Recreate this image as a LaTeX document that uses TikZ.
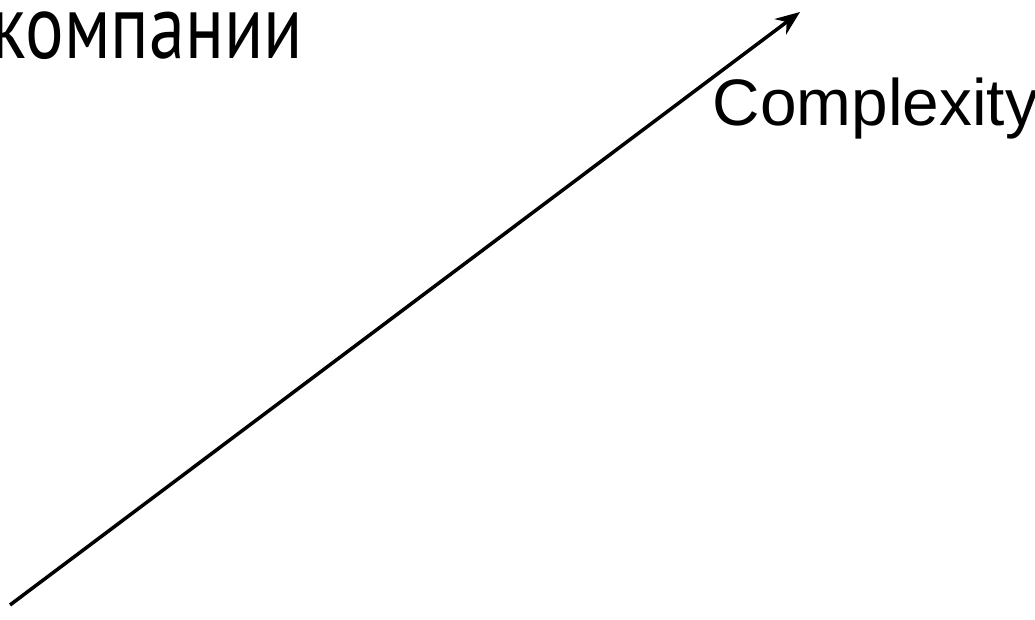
\documentclass[tikz,border=0pt]{standalone}
\usepackage{fontspec}
\setmainfont{Liberation Sans}
\newfontfamily\cyrfont{PT Sans}
\usetikzlibrary{arrows.meta}

\begin{document}
\begin{tikzpicture}[every node/.style={inner sep=0pt, outer sep=0pt}]
    \useasboundingbox (0,0) rectangle (10.35,6.2);

    % Axis
    \coordinate (start) at (0.10,0.15);
    \coordinate (tip) at (8.00,6.08);
    \draw[->, line width=1pt, >={Stealth[length=7pt, width=5.5pt]}] (start) -- (tip);

    % Labels
    \node[anchor=base east, xscale=0.79, transform shape, font=\cyrfont\fontsize{26}{30}\selectfont] (company) at (3.03,5.61) {компании};
    \node[anchor=base west, font=\fontsize{18.7}{22}\selectfont] (complexity) at (7.13,4.94) {Complexity};
\end{tikzpicture}
\end{document}
